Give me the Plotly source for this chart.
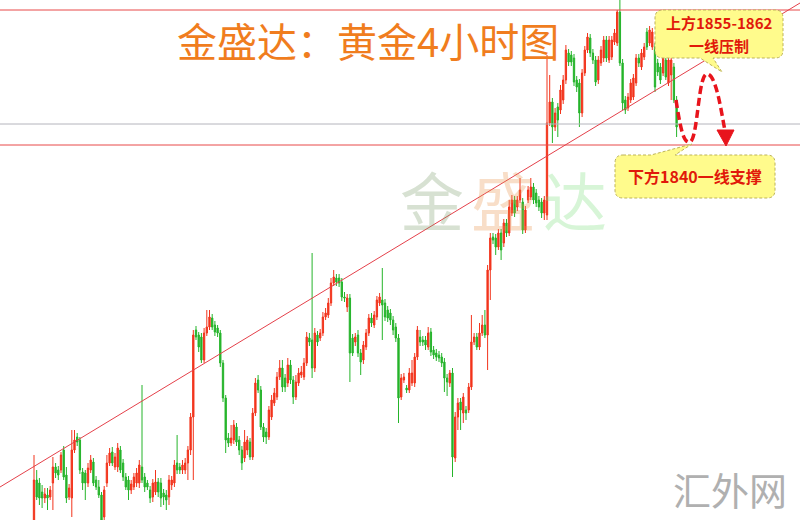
import plotly.graph_objects as go

W, H = 800, 520

# 4-hour gold candles (price in USD/oz)
opens = [
    1763.0, 1773.0, 1772.4, 1770.6, 1769.4, 1770.0, 1769.6, 1772.4, 1775.6, 1775.0,
    1775.0, 1779.0, 1774.0, 1769.6, 1769.4, 1779.0, 1781.6, 1781.0, 1774.6, 1774.4,
    1772.4, 1775.0, 1776.6, 1773.0, 1771.6, 1770.0, 1765.6, 1772.4, 1776.4, 1778.6,
    1775.6, 1775.6, 1779.0, 1776.4, 1773.6, 1773.0, 1771.0, 1771.6, 1772.4, 1772.4,
    1775.6, 1773.6, 1772.4, 1771.0, 1769.6, 1770.6, 1772.6, 1772.4, 1770.4, 1770.0,
    1769.6, 1772.0, 1772.4, 1776.4, 1775.6, 1775.0, 1775.0, 1776.4, 1779.0, 1785.6,
    1803.0, 1802.0, 1801.6, 1797.0, 1802.4, 1803.6, 1805.4, 1804.0, 1803.4, 1802.4,
    1796.4, 1789.4, 1781.4, 1780.4, 1781.0, 1783.6, 1781.0, 1779.0, 1777.4, 1779.0,
    1780.6, 1777.6, 1786.4, 1793.0, 1791.0, 1783.6, 1782.6, 1781.6, 1785.6, 1788.4,
    1789.6, 1793.6, 1795.4, 1793.4, 1792.4, 1796.0, 1793.0, 1789.6, 1792.4, 1794.0,
    1793.6, 1796.4, 1801.4, 1801.0, 1795.4, 1802.0, 1801.4, 1802.4, 1805.6, 1806.0,
    1808.4, 1812.4, 1813.4, 1813.4, 1812.6, 1809.6, 1807.6, 1809.4, 1801.4, 1800.6,
    1802.0, 1798.4, 1797.0, 1799.6, 1802.4, 1805.4, 1804.0, 1805.6, 1808.4, 1809.0,
    1808.4, 1807.0, 1806.4, 1805.0, 1803.6, 1801.4, 1789.6, 1793.0, 1791.4, 1791.0,
    1792.4, 1792.4, 1797.6, 1801.6, 1801.0, 1801.0, 1799.6, 1802.6, 1799.0, 1798.4,
    1798.0, 1797.6, 1796.6, 1793.4, 1792.4, 1794.4, 1777.4, 1785.6, 1788.6, 1786.4,
    1787.0, 1787.0, 1791.6, 1800.6, 1801.6, 1799.6, 1802.4, 1804.0, 1802.0, 1815.0,
    1821.6, 1821.4, 1819.6, 1822.4, 1820.4, 1824.4, 1822.4, 1826.4, 1829.0, 1827.6,
    1829.0, 1828.6, 1823.0, 1829.0, 1829.6, 1831.6, 1830.4, 1829.0, 1828.6, 1826.4,
    1826.0, 1844.4, 1848.6, 1843.6, 1847.6, 1847.0, 1849.0, 1853.0, 1858.4, 1858.0,
    1857.4, 1853.0, 1852.4, 1846.4, 1854.4, 1859.0, 1861.4, 1858.4, 1857.0, 1853.0,
    1856.4, 1857.4, 1861.0, 1857.0, 1857.6, 1860.6, 1860.4, 1866.6, 1856.4, 1849.0,
    1847.4, 1849.0, 1849.6, 1852.4, 1857.4, 1855.6, 1857.6, 1862.6, 1860.4, 1859.6,
    1859.6, 1856.4, 1855.6, 1854.4, 1857.0, 1852.4, 1854.0, 1855.6, 1849.0,
]
highs = [
    1778.0, 1775.0, 1773.4, 1772.0, 1771.4, 1771.4, 1771.8, 1777.6, 1776.4, 1775.8,
    1778.6, 1779.8, 1775.6, 1772.2, 1783.0, 1783.0, 1782.4, 1781.6, 1775.4, 1775.0,
    1776.4, 1778.0, 1777.4, 1773.8, 1773.0, 1770.6, 1771.8, 1778.0, 1779.4, 1779.6,
    1778.4, 1780.4, 1779.8, 1777.2, 1774.4, 1773.8, 1773.0, 1774.4, 1775.4, 1777.0,
    1792.0, 1774.4, 1773.0, 1771.8, 1773.2, 1775.0, 1773.4, 1773.4, 1771.2, 1771.0,
    1774.0, 1773.8, 1777.0, 1782.0, 1776.4, 1777.0, 1777.4, 1779.8, 1786.4, 1803.0,
    1803.8, 1802.6, 1802.4, 1803.4, 1807.0, 1807.0, 1806.2, 1804.8, 1804.0, 1803.0,
    1797.0, 1790.0, 1782.4, 1784.0, 1785.0, 1784.4, 1781.8, 1779.8, 1783.0, 1781.8,
    1781.4, 1787.4, 1793.4, 1794.0, 1791.8, 1784.4, 1783.4, 1787.8, 1790.0, 1791.4,
    1794.6, 1797.0, 1797.0, 1794.2, 1797.4, 1797.0, 1793.8, 1794.0, 1795.4, 1795.8,
    1797.4, 1802.6, 1802.4, 1818.4, 1803.4, 1802.8, 1803.2, 1806.6, 1807.4, 1809.4,
    1813.4, 1815.0, 1814.2, 1814.2, 1813.4, 1810.6, 1810.2, 1810.2, 1802.2, 1802.4,
    1803.0, 1799.2, 1800.8, 1803.2, 1806.2, 1806.4, 1806.8, 1809.8, 1810.4, 1815.4,
    1809.2, 1807.8, 1807.2, 1805.8, 1804.4, 1802.2, 1794.2, 1794.4, 1792.0, 1795.4,
    1797.0, 1798.4, 1803.8, 1803.0, 1801.8, 1801.8, 1803.6, 1803.4, 1799.8, 1799.2,
    1798.8, 1798.4, 1797.4, 1794.2, 1795.0, 1795.4, 1786.6, 1789.4, 1789.4, 1790.4,
    1787.8, 1792.4, 1806.0, 1802.4, 1802.4, 1804.4, 1806.0, 1807.0, 1816.0, 1822.4,
    1822.4, 1822.2, 1823.2, 1823.2, 1825.2, 1825.2, 1829.0, 1830.0, 1829.8, 1829.8,
    1833.4, 1829.4, 1827.8, 1831.8, 1833.4, 1832.4, 1831.2, 1829.8, 1829.4, 1829.8,
    1858.0, 1854.0, 1849.4, 1847.4, 1848.4, 1852.0, 1854.0, 1860.0, 1859.2, 1858.8,
    1858.2, 1853.8, 1853.2, 1855.2, 1859.8, 1862.4, 1862.2, 1859.2, 1857.8, 1857.8,
    1859.8, 1861.8, 1861.8, 1861.8, 1861.8, 1863.2, 1867.0, 1870.0, 1857.2, 1849.8,
    1850.4, 1853.2, 1854.2, 1858.2, 1858.2, 1859.2, 1860.4, 1863.4, 1863.8, 1863.4,
    1860.4, 1857.2, 1856.4, 1858.2, 1857.8, 1857.8, 1857.8, 1856.4, 1849.8,
]
lows = [
    1760.0, 1769.0, 1768.0, 1767.4, 1768.4, 1767.0, 1769.0, 1767.0, 1773.4, 1773.0,
    1774.4, 1773.0, 1768.4, 1769.0, 1765.6, 1778.4, 1779.8, 1774.2, 1771.0, 1769.0,
    1771.6, 1774.4, 1771.8, 1771.0, 1769.4, 1764.0, 1764.6, 1771.6, 1775.8, 1775.8,
    1775.0, 1774.6, 1774.4, 1772.8, 1771.0, 1769.0, 1770.2, 1771.0, 1771.6, 1771.4,
    1772.4, 1770.6, 1771.0, 1768.4, 1768.6, 1770.0, 1769.6, 1767.6, 1768.0, 1767.0,
    1768.0, 1771.0, 1771.6, 1774.2, 1774.2, 1774.2, 1774.2, 1773.0, 1778.0, 1773.0,
    1801.0, 1798.6, 1796.4, 1796.4, 1801.8, 1803.0, 1803.0, 1801.8, 1801.6, 1795.6,
    1788.6, 1778.4, 1779.6, 1779.8, 1780.2, 1779.8, 1778.0, 1775.0, 1776.6, 1778.0,
    1777.0, 1777.0, 1785.8, 1790.4, 1783.0, 1780.6, 1780.2, 1781.0, 1785.0, 1787.8,
    1789.0, 1793.0, 1790.6, 1790.6, 1791.6, 1792.2, 1788.2, 1789.0, 1791.8, 1793.4,
    1793.0, 1795.8, 1799.8, 1793.4, 1794.6, 1799.8, 1800.8, 1801.8, 1805.0, 1805.4,
    1807.8, 1811.8, 1811.8, 1811.6, 1808.8, 1808.6, 1806.6, 1792.6, 1797.8, 1799.8,
    1797.6, 1794.0, 1796.2, 1799.0, 1801.8, 1803.6, 1803.4, 1805.0, 1807.8, 1801.0,
    1804.8, 1804.6, 1804.0, 1802.0, 1800.6, 1784.4, 1789.0, 1792.4, 1790.4, 1790.4,
    1791.8, 1791.6, 1797.0, 1799.8, 1799.8, 1799.0, 1799.0, 1797.8, 1797.2, 1796.8,
    1796.6, 1795.6, 1790.6, 1789.8, 1791.6, 1773.6, 1776.6, 1783.0, 1783.0, 1784.4,
    1785.0, 1786.4, 1791.0, 1800.0, 1799.0, 1799.0, 1801.8, 1801.4, 1795.0, 1809.0,
    1820.2, 1818.0, 1819.0, 1817.0, 1819.6, 1821.6, 1821.8, 1825.8, 1825.6, 1826.8,
    1828.4, 1822.2, 1822.4, 1828.4, 1829.0, 1828.2, 1827.6, 1826.8, 1825.4, 1825.0,
    1825.0, 1843.8, 1840.4, 1842.8, 1841.6, 1846.2, 1848.2, 1852.2, 1855.8, 1855.8,
    1851.8, 1850.6, 1843.6, 1845.6, 1853.8, 1858.4, 1857.6, 1856.2, 1851.8, 1852.2,
    1855.8, 1856.6, 1856.6, 1856.4, 1857.0, 1860.0, 1859.8, 1855.8, 1847.0, 1846.2,
    1846.8, 1848.4, 1849.0, 1851.8, 1855.6, 1855.0, 1857.0, 1859.0, 1859.8, 1859.0,
    1850.6, 1853.8, 1852.2, 1853.8, 1853.0, 1851.8, 1849.0, 1848.4, 1841.6,
]
closes = [
    1773.0, 1769.6, 1769.4, 1769.4, 1770.2, 1769.4, 1771.0, 1775.6, 1774.4, 1774.0,
    1778.0, 1773.6, 1769.4, 1771.4, 1779.0, 1781.0, 1780.6, 1775.0, 1772.4, 1772.4,
    1775.4, 1777.0, 1772.4, 1771.6, 1770.0, 1765.0, 1771.0, 1776.4, 1778.4, 1776.4,
    1777.6, 1779.4, 1775.0, 1773.6, 1771.6, 1771.0, 1772.2, 1773.6, 1774.4, 1776.0,
    1773.0, 1771.6, 1771.6, 1769.4, 1772.4, 1772.6, 1770.6, 1769.4, 1769.6, 1769.0,
    1773.0, 1773.0, 1776.0, 1775.0, 1775.0, 1776.0, 1776.4, 1779.0, 1785.6, 1802.0,
    1801.6, 1799.6, 1797.0, 1802.4, 1803.6, 1805.6, 1803.6, 1802.6, 1802.4, 1796.4,
    1789.4, 1781.0, 1780.4, 1781.4, 1784.0, 1780.6, 1779.0, 1776.4, 1780.6, 1781.0,
    1777.6, 1786.4, 1792.4, 1791.0, 1783.6, 1781.6, 1781.6, 1787.0, 1789.0, 1790.4,
    1793.6, 1795.4, 1791.6, 1791.6, 1796.0, 1793.0, 1789.6, 1792.6, 1794.4, 1794.6,
    1796.4, 1801.6, 1800.6, 1795.4, 1802.4, 1800.6, 1802.4, 1805.6, 1806.4, 1808.4,
    1812.4, 1813.6, 1812.6, 1812.4, 1809.6, 1809.4, 1809.4, 1798.4, 1798.4, 1801.6,
    1798.4, 1796.6, 1800.0, 1802.4, 1805.4, 1804.4, 1806.0, 1809.0, 1809.6, 1808.0,
    1805.6, 1805.4, 1805.0, 1803.0, 1801.4, 1789.4, 1793.4, 1793.6, 1791.0, 1794.4,
    1794.4, 1797.6, 1803.0, 1800.6, 1800.6, 1800.0, 1802.4, 1798.6, 1798.0, 1797.6,
    1797.4, 1796.4, 1793.4, 1792.6, 1794.4, 1777.6, 1785.6, 1788.4, 1787.0, 1789.6,
    1786.4, 1791.6, 1800.6, 1801.6, 1799.6, 1802.4, 1804.0, 1802.0, 1815.0, 1821.4,
    1821.0, 1819.6, 1822.4, 1819.0, 1824.4, 1822.4, 1827.6, 1829.0, 1826.4, 1829.0,
    1831.0, 1823.0, 1827.0, 1831.0, 1831.6, 1829.0, 1828.4, 1827.6, 1826.4, 1829.0,
    1844.4, 1848.6, 1843.6, 1846.4, 1845.0, 1851.0, 1853.0, 1859.0, 1856.6, 1856.6,
    1852.6, 1851.6, 1846.4, 1854.4, 1859.0, 1861.6, 1858.4, 1857.0, 1852.6, 1857.0,
    1859.0, 1861.0, 1857.4, 1861.0, 1861.0, 1862.4, 1866.6, 1856.4, 1848.4, 1847.0,
    1849.6, 1852.4, 1853.4, 1857.4, 1856.4, 1858.4, 1859.6, 1859.6, 1863.0, 1862.6,
    1851.6, 1854.6, 1853.0, 1857.4, 1853.6, 1857.0, 1857.0, 1849.0, 1843.6,
]

# Key levels drawn across the chart
upper_level = 1867.0
last_price = 1844.2
support_level = 1840.0
trend_left = 1771.6    # rising trendline, value at left edge
trend_right = 1868.4   # value at right edge

title_text = "金盛达：黄金4小时图"
resist_lines = ["上方1855-1862", "一线压制"]
support_text = "下方1840一线支撑"
brand = ["金", "盛", "达"]
site = "汇外网"

UP = "#f2341c"
DOWN = "#25b42a"
CJK = "Noto Sans CJK SC"

bars = list(range(len(opens)))
bar_px, first_px = 2.7, 34.0
price_top, px_per_usd = 1869.0, 5.0


def P(x, y):
    """pixel position -> paper coordinates for decorations"""
    return f"{x / W:.5f},{1 - y / H:.5f}"


def path(cmds):
    out = []
    for c in cmds:
        if isinstance(c, str):
            out.append(c)
        else:
            out.append(P(*c))
    return " ".join(out)


fig = go.Figure(go.Candlestick(
    x=bars, open=opens, high=highs, low=lows, close=closes,
    increasing=dict(line=dict(color=UP, width=1), fillcolor=UP),
    decreasing=dict(line=dict(color=DOWN, width=1), fillcolor=DOWN),
    whiskerwidth=0, hoverinfo="skip", showlegend=False,
))

shapes = []
# horizontal levels and trendline
shapes.append(dict(type="line", xref="paper", yref="y", x0=0, x1=1,
                   y0=upper_level, y1=upper_level, line=dict(color="#e84848", width=1)))
shapes.append(dict(type="line", xref="paper", yref="y", x0=0, x1=1,
                   y0=last_price, y1=last_price, line=dict(color="#b4b4bc", width=1)))
shapes.append(dict(type="line", xref="paper", yref="y", x0=0, x1=1,
                   y0=support_level, y1=support_level, line=dict(color="#e84848", width=1)))
shapes.append(dict(type="line", xref="paper", yref="y", x0=0, x1=1,
                   y0=trend_left, y1=trend_right, line=dict(color="#e4404a", width=1)))

# projected path: dip to support, bounce, then drop again
shapes.append(dict(
    type="path", xref="paper", yref="paper",
    path=path(["M", (676, 100), "C", (680, 125), (683, 144), (690, 142),
               "C", (698, 139), (698, 74), (707, 74),
               "C", (716, 74), (721, 110), (725, 131)]),
    line=dict(color="#e8141c", width=3.5, dash="8px,4px"),
))
shapes.append(dict(
    type="path", xref="paper", yref="paper",
    path=path(["M", (717, 130), "L", (734, 130), "L", (726, 146), "Z"]),
    fillcolor="#e8141c", line=dict(color="#e8141c", width=1),
))

box_fill = "#fffb8c"
box_line = dict(color="#bdb35a", width=1, dash="3px,2px")
# resistance callout
shapes.append(dict(
    type="path", xref="paper", yref="paper", fillcolor=box_fill, line=box_line,
    path=path(["M", (663, 10), "L", (775, 10), "Q", (783, 10), (783, 18),
               "L", (783, 50), "Q", (783, 58), (775, 58), "L", (713, 58),
               "L", (722, 72), "L", (700, 58), "L", (663, 58),
               "Q", (655, 58), (655, 50), "L", (655, 18), "Q", (655, 10), (663, 10), "Z"]),
))
# support callout
shapes.append(dict(
    type="path", xref="paper", yref="paper", fillcolor=box_fill, line=box_line,
    path=path(["M", (623, 155), "L", (651, 155), "L", (692, 144), "L", (675, 155),
               "L", (767, 155), "Q", (775, 155), (775, 163), "L", (775, 190),
               "Q", (775, 198), (767, 198), "L", (623, 198), "Q", (615, 198), (615, 190),
               "L", (615, 163), "Q", (615, 155), (623, 155), "Z"]),
))

ann = []


def label(text, x, y, size, color, bold=False, family=CJK):
    ann.append(dict(text=text, xref="paper", yref="paper", x=x / W, y=1 - y / H,
                    xanchor="center", yanchor="middle", showarrow=False, borderpad=0,
                    font=dict(family=family, size=size, color=color,
                              weight="bold" if bold else "normal")))


# faint brand watermark
label(brand[0], 432, 198, 64, "rgba(122,155,105,0.30)")
label(brand[1], 503, 198, 64, "rgba(232,145,72,0.30)")
label(brand[2], 575, 198, 64, "rgba(122,222,122,0.30)")

label(title_text, 368, 40, 40, "#f07d1e")
label(resist_lines[0], 719, 23, 15, "#e1190a", bold=True)
label(resist_lines[1], 719, 45, 15, "#e1190a", bold=True)
label(support_text, 695, 176, 16, "#e1190a", bold=True)
label(site, 730, 488, 38, "#b0b0b0")

fig.update_layout(
    width=W, height=H,
    margin=dict(l=0, r=0, t=0, b=0),
    paper_bgcolor="white", plot_bgcolor="white",
    shapes=shapes, annotations=ann,
    xaxis=dict(range=[-first_px / bar_px, (W - first_px) / bar_px],
               visible=False, rangeslider=dict(visible=False), fixedrange=True),
    yaxis=dict(range=[price_top - H / px_per_usd, price_top],
               visible=False, fixedrange=True),
    font=dict(family=CJK),
)

fig.write_html("out.html")
